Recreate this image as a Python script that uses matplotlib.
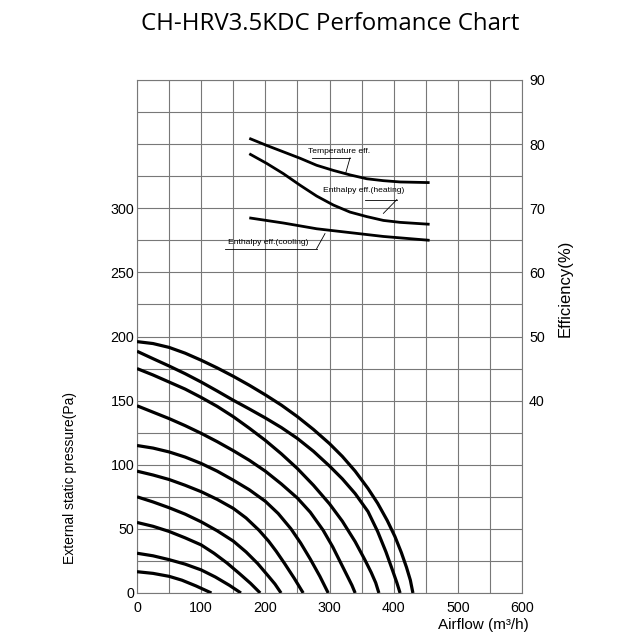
import matplotlib
matplotlib.use("Agg")
import matplotlib.pyplot as plt

# ---------------- data ----------------
# Fan curves: airflow (m3/h) vs external static pressure (Pa)
c1_x = [0, 25, 50, 75, 100, 125, 150, 175, 200, 225, 250, 275, 300, 320, 340,
        360, 375, 390, 402, 412, 420, 426, 430]
c1_y = [196, 194.5, 191.5, 187, 181.5, 175.5, 169, 162, 154.5, 146.5, 137.5,
        127.5, 116.5, 106.5, 95, 81.5, 70, 56.5, 44, 31.5, 20, 10, 0]
c2_x = [0, 25, 50, 75, 100, 125, 150, 175, 200, 225, 250, 275, 300, 320, 340,
        360, 375, 388, 398, 405, 410]
c2_y = [188.5, 182.7, 177, 171, 164.5, 157.5, 150.3, 143.5, 136.5, 129, 120.5,
        110.5, 99, 89, 77.5, 63.5, 48, 32, 18, 8, 0]
c3_x = [0, 25, 50, 75, 100, 125, 150, 175, 200, 225, 250, 275, 300, 320, 340,
        355, 365, 372, 377]
c3_y = [175, 170, 164.5, 159, 152.5, 145.5, 137.5, 128.5, 119, 108.5, 97, 84,
        69.5, 56, 40, 26, 16, 8, 0]
c4_x = [0, 25, 50, 75, 100, 125, 150, 175, 200, 225, 250, 270, 290, 305, 318,
        328, 335, 340]
c4_y = [146, 141, 136, 130.5, 124.5, 118, 111, 103.5, 95, 85, 74, 63, 49, 36,
        23, 13, 6, 0]
c5_x = [0, 25, 50, 75, 100, 125, 150, 175, 200, 220, 240, 255, 270, 285, 298]
c5_y = [115, 113, 110, 106, 101, 95, 88, 80.5, 71.5, 62, 50, 39, 26.5, 13, 0]
c6_x = [0, 25, 50, 75, 100, 125, 150, 170, 190, 205, 217, 230, 245, 259]
c6_y = [95, 92, 88.5, 84, 79, 73, 66, 58.5, 49, 40.5, 32.5, 23, 11.5, 0]
c7_x = [0, 25, 50, 75, 100, 125, 150, 170, 188, 205, 215, 224.5]
c7_y = [75, 71, 66.5, 61.5, 55.5, 48.5, 40.5, 32, 23, 13, 7, 0]
c8_x = [0, 25, 50, 75, 100, 120, 140, 160, 177, 192]
c8_y = [55, 52, 48, 43, 37.5, 31, 23.5, 15, 7.5, 0]
c9_x = [0, 25, 50, 75, 100, 122, 144, 162]
c9_y = [31, 29, 26, 22.5, 18, 12.5, 6, 0]
c10_x = [0, 25, 50, 70, 92, 116]
c10_y = [16.6, 15.3, 13, 10, 5.5, 0]

# Efficiency curves: airflow vs efficiency (%)
temp_x = [175, 202, 228, 254, 280, 306, 332, 358, 384, 410, 456]
temp_y = [80.9, 79.8, 78.8, 77.8, 76.7, 75.9, 75.2, 74.6, 74.3, 74.1, 74.0]
heat_x = [175, 202, 228, 254, 280, 306, 332, 358, 384, 410, 456]
heat_y = [78.5, 77.0, 75.4, 73.6, 71.9, 70.5, 69.4, 68.7, 68.1, 67.8, 67.5]
cool_x = [175, 228, 280, 332, 384, 456]
cool_y = [68.5, 67.7, 66.8, 66.2, 65.6, 65.0]

x_ticks = [0, 100, 200, 300, 400, 500, 600]
p_ticks = [0, 50, 100, 150, 200, 250, 300]
e_ticks = [40, 50, 60, 70, 80, 90]

title = "CH-HRV3.5KDC Perfomance Chart"

# ---------------- figure ----------------
fig = plt.figure(figsize=(6.4, 6.4), dpi=100)
ax = fig.add_axes([137/640, 47/640, 385/640, 513/640])
ax.set_xlim(0, 600)
ax.set_ylim(0, 400)

grid_c = "#787878"
for gx in range(0, 601, 50):
    ax.axvline(gx, color=grid_c, lw=0.8, zorder=1)
for gy in range(0, 401, 25):
    ax.axhline(gy, color=grid_c, lw=0.8, zorder=1)
for s in ax.spines.values():
    s.set_color(grid_c)
    s.set_linewidth(0.8)

fan = [(c1_x, c1_y), (c2_x, c2_y), (c3_x, c3_y), (c4_x, c4_y), (c5_x, c5_y),
       (c6_x, c6_y), (c7_x, c7_y), (c8_x, c8_y), (c9_x, c9_y), (c10_x, c10_y)]
for xs, ys in fan:
    ax.plot(xs, ys, color="black", lw=2.3, solid_capstyle="butt",
            solid_joinstyle="round", zorder=3)

tfont = dict(family="Liberation Sans", size=10.3)
ax.set_xticks(x_ticks)
ax.set_xticklabels([str(v) for v in x_ticks], **tfont)
ax.set_yticks(p_ticks)
ax.set_yticklabels([str(v) for v in p_ticks], **tfont)
ax.tick_params(axis="both", length=0)
ax.tick_params(axis="x", pad=6)
ax.tick_params(axis="y", pad=2)

ax2 = ax.twinx()
ax2.set_ylim(10, 90)
ax2.set_yticks(e_ticks)
ax2.set_yticklabels([str(v) for v in e_ticks], **tfont)
ax2.tick_params(axis="y", length=0, pad=5)
for s in ax2.spines.values():
    s.set_visible(False)

for xs, ys in [(temp_x, temp_y), (heat_x, heat_y), (cool_x, cool_y)]:
    ax2.plot(xs, ys, color="black", lw=2.0, solid_capstyle="butt",
             solid_joinstyle="round", zorder=3)

lfont = dict(family="Liberation Sans", size=6.1)
ax2.text(266.5, 78.8, "Temperature eff.", va="center", ha="left", **lfont)
ax2.plot([272, 332], [77.86, 77.86], color="black", lw=0.6)
ax2.plot([332, 325], [77.86, 75.4], color="black", lw=0.6)

ax2.text(289.5, 72.7, "Enthalpy eff.(heating)", va="center", ha="left", **lfont)
ax2.plot([356, 405], [71.36, 71.36], color="black", lw=0.6)
ax2.plot([405, 384], [71.36, 69.2], color="black", lw=0.6)

ax2.text(142, 64.6, "Enthalpy eff.(cooling)", va="center", ha="left", **lfont)
ax2.plot([137, 280], [63.7, 63.7], color="black", lw=0.6)
ax2.plot([280, 293], [63.7, 66.05], color="black", lw=0.6)

fig.text(330/640, 1 - 24/640, title, ha="center", va="center",
         family="Open Sans", fontsize=17.3)
fig.text(70/640, 1 - 478/640, "External static pressure(Pa)", rotation=90,
         ha="center", va="center", family="Liberation Sans", fontsize=10)
fig.text(565/640, 1 - 288/640, "Efficiency(%)", rotation=90,
         ha="center", va="center", family="Liberation Sans", fontsize=12)
fig.text(483/640, 1 - 625/640, "Airflow (m³/h)", ha="center", va="center",
         family="Liberation Sans", fontsize=11)

fig.savefig("out.png", dpi=100)
